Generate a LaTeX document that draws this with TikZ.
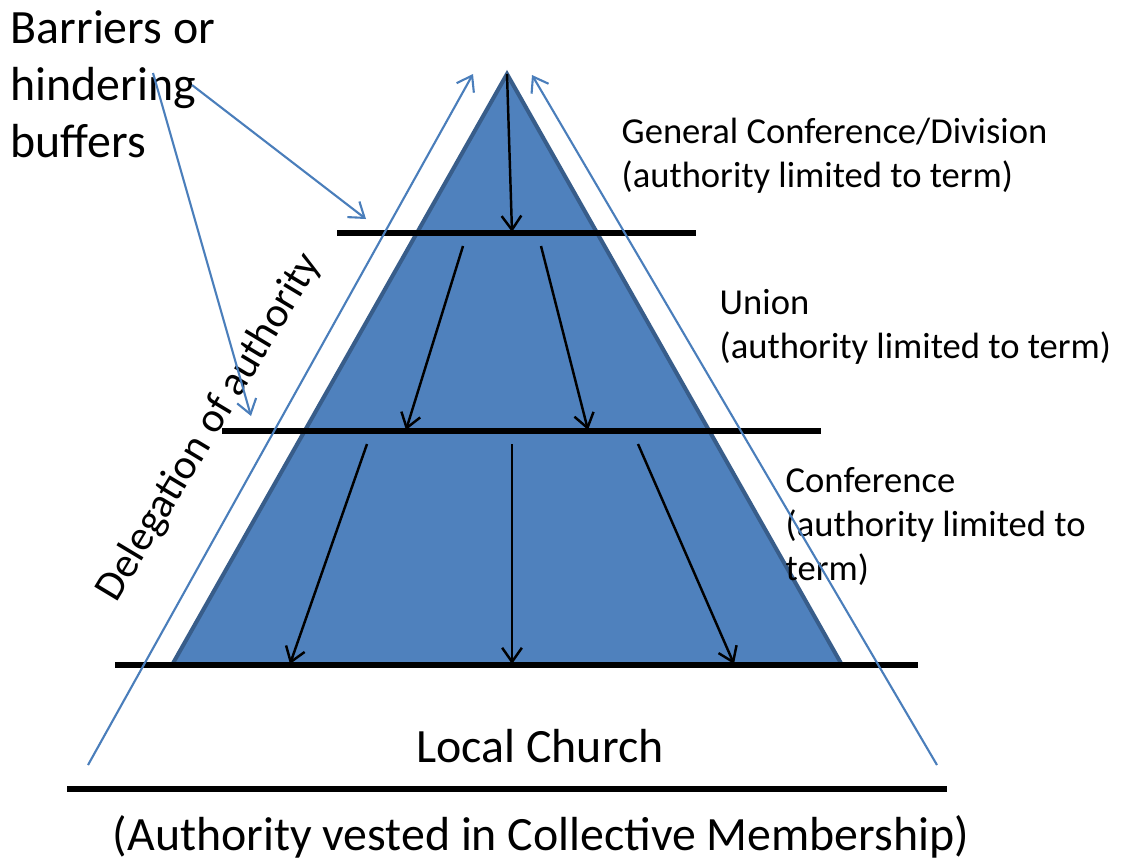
\documentclass[tikz,border=0pt]{standalone}
\usepackage{fontspec}
\setmainfont{Carlito}
\usetikzlibrary{arrows.meta}
\definecolor{pyrfill}{HTML}{4F81BD}
\definecolor{pyredge}{HTML}{385D8A}
\definecolor{bufblue}{HTML}{4A7EBB}

\begin{document}
\begin{tikzpicture}[x=0.01cm, y=-0.01cm,
    >={Straight Barb[length=4pt, width=5.6pt]},
    level/.style={line width=1.45pt},
    down/.style={->, line width=0.7pt},
    buffer/.style={->, bufblue, line width=0.6pt},
    big/.style={font=\fontsize{13.6}{16.2}\selectfont, inner sep=0pt},
    small/.style={font=\fontsize{10.4}{12.5}\selectfont, inner sep=0pt, align=left}]
  \useasboundingbox (0,0) rectangle (1125,863);
  % the pyramid
  \coordinate (T) at (507,74);
  \coordinate (TL) at (172,665);
  \coordinate (TR) at (842,665);
  \filldraw [fill=pyrfill, draw=pyredge, line width=1.15pt] (T) -- (TL) -- (TR) -- cycle;
  % labels (base = last line)
  \node [big, anchor=base west, align=left] (BAR) at (10,157) {Barriers or\\hindering\\buffers};
  \node [small, anchor=base west] (GC) at (621,187) {General Conference/Division\\(authority limited to term)};
  \node [small, anchor=base west] (UN) at (719,358) {Union\\(authority limited to term)};
  \node [small, anchor=base west] (CF) at (785,580) {Conference\\(authority limited to\\term)};
  \node [big, anchor=base] (LC) at (540,762) {Local Church};
  \node [big, anchor=base] (CM) at (541,850) {(Authority vested in Collective Membership)};
  \node [font=\fontsize{12}{14}\selectfont, inner sep=0pt, rotate=59, anchor=base] (DA) at (219,433) {Delegation of authority};
  % levels
  \coordinate (L1a) at (337,233); \coordinate (L1b) at (696,233);
  \coordinate (L2a) at (222,431); \coordinate (L2b) at (821,431);
  \coordinate (L3a) at (115,665); \coordinate (L3b) at (918,665);
  \coordinate (L4a) at (67,789);  \coordinate (L4b) at (947,789);
  \draw [level] (L1a) -- (L1b);
  \draw [level] (L2a) -- (L2b);
  \draw [level] (L3a) -- (L3b);
  \draw [level] (L4a) -- (L4b);
  % delegation downwards
  \coordinate (G1) at (512,232);
  \coordinate (U1s) at (463,246); \coordinate (U1) at (406,430);
  \coordinate (U2s) at (541,246); \coordinate (U2) at (588,430);
  \coordinate (C1s) at (367,444); \coordinate (C1) at (290,664);
  \coordinate (C2s) at (512,444); \coordinate (C2) at (512,664);
  \coordinate (C3s) at (638,444); \coordinate (C3) at (734,664);
  \draw [down] (T) -- (G1);
  \draw [down] (U1s) -- (U1);
  \draw [down] (U2s) -- (U2);
  \draw [down] (C1s) -- (C1);
  \draw [down] (C2s) -- (C2);
  \draw [down] (C3s) -- (C3);
  % upward buffers
  \coordinate (BL) at (88,765);  \coordinate (BLt) at (473,74);
  \coordinate (BR) at (937,765); \coordinate (BRt) at (532,75);
  \draw [buffer] (BL) -- (BLt);
  \draw [buffer] (BR) -- (BRt);
  \coordinate (H1) at (192,85);  \coordinate (H1t) at (366,219);
  \coordinate (H2) at (153,73);  \coordinate (H2t) at (251,416);
  \draw [buffer] (H1) -- (H1t);
  \draw [buffer] (H2) -- (H2t);
\end{tikzpicture}
\end{document}
